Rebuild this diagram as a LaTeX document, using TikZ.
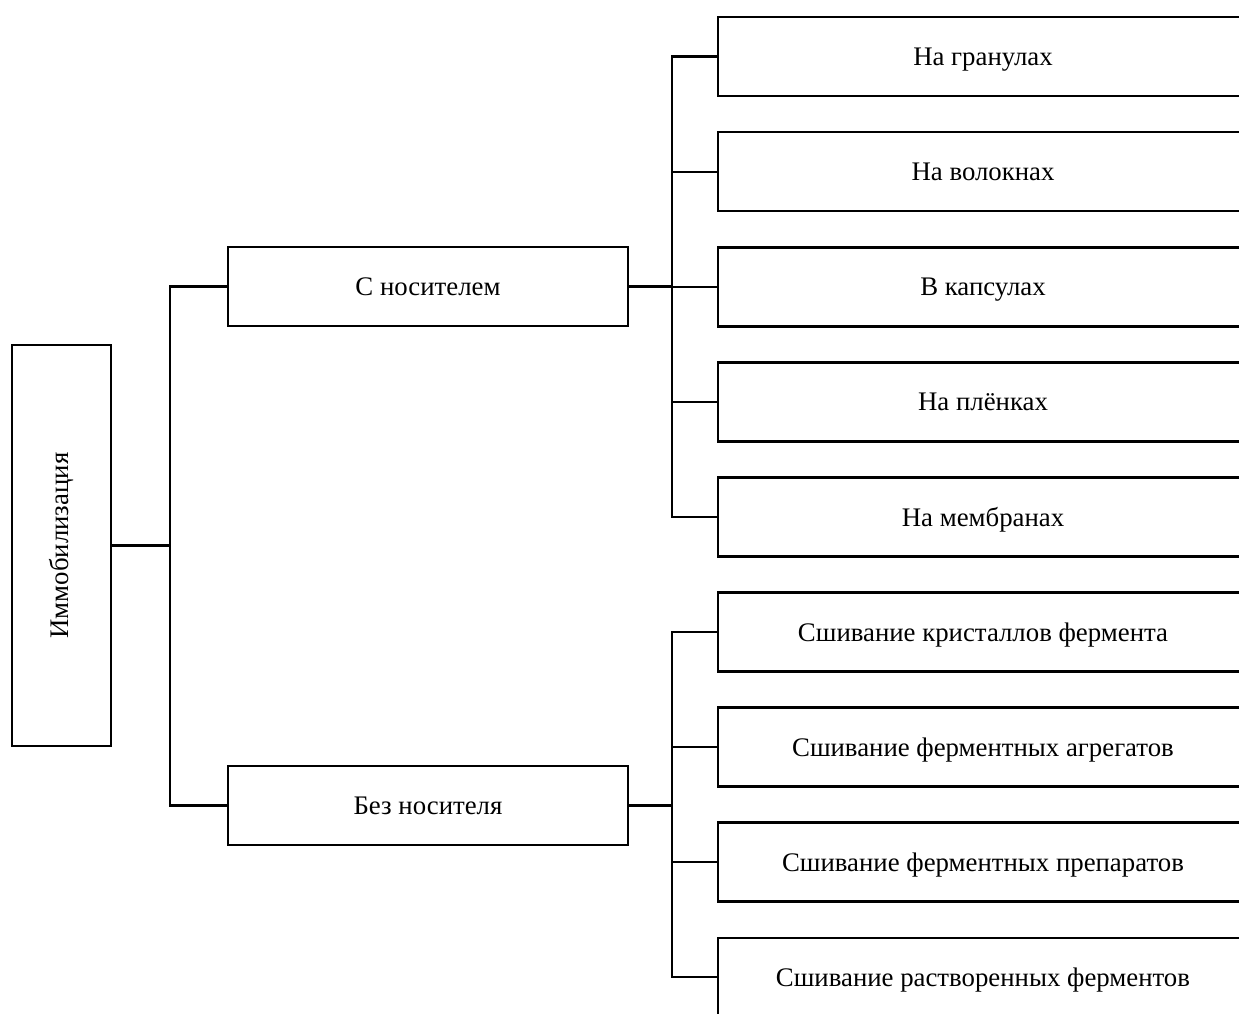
\documentclass[tikz,border=0pt]{standalone}
\usepackage{fontspec}
\setmainfont{Liberation Serif}
\usetikzlibrary{positioning}
\tikzset{
  box/.style={draw, line width=2.6pt, inner sep=0pt, font=\fontsize{26.8}{30}\selectfont},
  rbox/.style={box, minimum width=530pt, minimum height=79pt, text depth=0pt},
  mbox/.style={box, minimum width=400pt, minimum height=79pt, text depth=0pt},
  link/.style={line width=2.2pt}
}
\begin{document}
\begin{tikzpicture}[x=1pt,y=-1pt]
  \useasboundingbox (0,0) rectangle (1239,1014);

  % корень
  \node[box, rotate=90, minimum width=401pt, minimum height=99pt] (root) at (61.5,545.5) {Иммобилизация};

  % второй уровень
  \node[mbox] (carrier) at (428,286.5) {С носителем};
  \node[mbox] (nocarrier) at (428,805.5) {Без носителя};

  % третий уровень
  \foreach \txt [count=\i] in {На гранулах, На волокнах, В капсулах, На плёнках, На мембранах,
      Сшивание кристаллов фермента, Сшивание ферментных агрегатов,
      Сшивание ферментных препаратов, Сшивание растворенных ферментов}
    \node[rbox] (r\i) at (983,{56.5+115.1*(\i-1)}) {\txt};

  \coordinate (t0) at (170,545.5);
  \coordinate (t1) at (672,286.5);
  \coordinate (t2) at (672,805.5);

  \draw[link] (root.south) -- (t0);
  \draw[link] (t0) |- (carrier.west);
  \draw[link] (t0) |- (nocarrier.west);

  \draw[link, line width=3pt] (carrier.east) -- (t1);
  \foreach \i in {1,...,5}
    \draw[link] (t1) |- (r\i.west);

  \draw[link, line width=3pt] (nocarrier.east) -- (t2);
  \foreach \i in {6,...,9}
    \draw[link] (t2) |- (r\i.west);
\end{tikzpicture}
\end{document}
